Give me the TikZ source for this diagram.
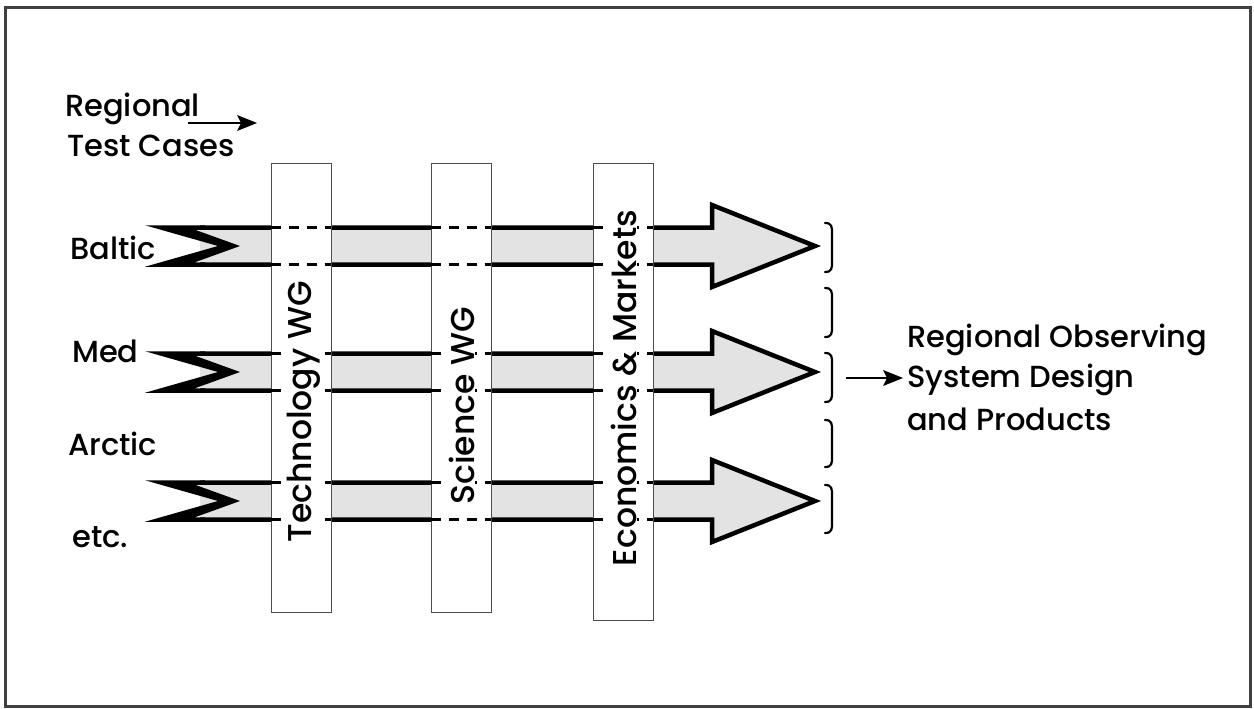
\documentclass[tikz,border=0pt]{standalone}
\usepackage{fontspec}
\setmainfont{Poppins Medium}
\usetikzlibrary{arrows.meta}
\begin{document}
\begin{tikzpicture}[x=1pt,y=-1pt,
  flowfill/.style={fill=black!11},
  flowline/.style={draw=black, line width=4.5pt, line join=miter},
  tail/.style={fill=black},
  wg/.style={draw=black!70, line width=0.8pt, fill=white, inner sep=0pt},
  dashline/.style={line width=2.6pt, dash pattern=on 10pt off 8pt},
  lbl/.style={font=\fontsize{30.5}{36}\selectfont, inner sep=0pt},
  wglbl/.style={font=\fontsize{33}{40}\selectfont, rotate=90, fill=white, inner sep=0pt},
  brk/.style={line width=2.2pt, line cap=round},
  pointer/.style={draw=black, line width=2.5pt},
  pointerhead/.style={fill=black}]

\useasboundingbox (0,0) rectangle (1254,709);
\draw[line width=3pt, draw=black!75] (5,8) rectangle (1250,706);

% flow arrows
\foreach \c in {246,372,501} {
  \fill[flowfill] (200,\c-18.5) -- (712,\c-18.5) -- (712,\c-41) -- (815,\c)
     -- (712,\c+41) -- (712,\c+18.5) -- (200,\c+18.5) -- cycle;
  \draw[flowline] (200,\c-18.5) -- (712,\c-18.5) -- (712,\c-41) -- (815,\c)
     -- (712,\c+41) -- (712,\c+18.5) -- (200,\c+18.5);
  \fill[tail] (145,\c-20.75) -- (205,\c-20.75) -- (205,\c-16.25) -- (195,\c-16.25)
     -- (240,\c) -- (195,\c+16.25) -- (205,\c+16.25) -- (205,\c+20.75)
     -- (145,\c+20.75) -- (218,\c) -- cycle;
}

% working group boxes
\node[wg, minimum width=60pt, minimum height=449pt] (tech) at (301,387.5) {};
\node[wg, minimum width=60pt, minimum height=449pt] (sci)  at (461,387.5) {};
\node[wg, minimum width=60pt, minimum height=457pt] (eco)  at (623,391.5) {};

% dashed continuation of the flow lines inside the boxes
\foreach \c in {246,372,501} {
  \foreach \b in {tech,sci,eco} {
    \coordinate (t) at (0,\c-18.5);
    \coordinate (u) at (0,\c+18.5);
    \draw[dashline] (\b.west |- t) -- (\b.east |- t);
    \draw[dashline] (\b.west |- u) -- (\b.east |- u);
  }
}

% box labels
\node[wglbl] (techlbl) at (304,412) {Technology WG};
\node[wglbl] (scilbl)  at (462,406) {Science WG};
\node[wglbl] (ecolbl)  at (624,388) {Economics \& Markets};

% left labels
\node[lbl, anchor=base west] (reg)  at (65,117) {Regional};
\node[lbl, anchor=base west] (tc)   at (67,157) {Test Cases};
\coordinate (ra) at (188,123);
\coordinate (rb) at (257,123);
\draw[pointer] (ra) -- ([xshift=-14pt]rb);
\fill[pointerhead] (rb) -- ([xshift=-20pt,yshift=8pt]rb) -- ([xshift=-16pt]rb)
   -- ([xshift=-20pt,yshift=-8pt]rb) -- cycle;

\node[lbl, anchor=base west] (baltic) at (70,259) {Baltic};
\node[lbl, anchor=base west] (med)    at (72,362) {Med};
\node[lbl, anchor=base west] (arctic) at (68,455) {Arctic};
\node[lbl, anchor=base west] (etc)    at (72,547) {etc.};

% brackets
\foreach \t/\b in {223/272, 288/337, 353/402, 420/467, 485/533} {
  \draw[brk] (825,\t) .. controls (832,\t) and (832,\t+4) .. (832,\t+10)
     -- (832,\b-10) .. controls (832,\b-4) and (832,\b) .. (825,\b);
}

% output
\node[lbl, anchor=base west] (out1) at (907,347) {Regional Observing};
\node[lbl, anchor=base west] (out2) at (907,387) {System Design};
\node[lbl, anchor=base west] (out3) at (907,430) {and Products};
\coordinate (bk) at (846,378);
\coordinate (bt) at (903,378);
\draw[pointer] (bk) -- ([xshift=-14pt]bt);
\fill[pointerhead] (bt) -- ([xshift=-20pt,yshift=8pt]bt) -- ([xshift=-16pt]bt)
   -- ([xshift=-20pt,yshift=-8pt]bt) -- cycle;

\end{tikzpicture}
\end{document}
